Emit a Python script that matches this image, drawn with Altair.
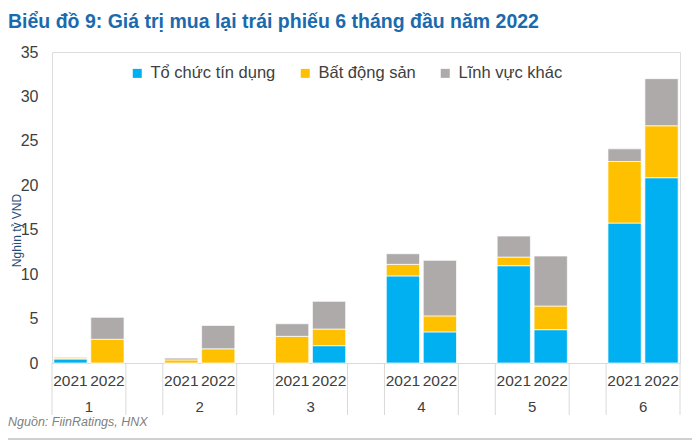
import altair as alt
import pandas as pd

months = [1, 2, 3, 4, 5, 6]
years = ["2021", "2022"]
sectors = ["Tổ chức tín dụng", "Bất động sản", "Lĩnh vực khác"]
colors = ["#00B0F0", "#FFC000", "#AEAAAA"]

# values (nghìn tỷ VND), per month
tctd_2021 = [0.45, 0.0, 0.0, 9.8, 10.95, 15.75]
tctd_2022 = [0.0, 0.0, 1.95, 3.5, 3.75, 20.85]
bds_2021 = [0.1, 0.35, 3.0, 1.3, 0.97, 6.93]
bds_2022 = [2.67, 1.6, 1.87, 1.8, 2.66, 5.85]
khac_2021 = [0.1, 0.2, 1.42, 1.2, 2.37, 1.42]
khac_2022 = [2.47, 2.63, 3.12, 6.25, 5.63, 5.3]

series = {
    ("Tổ chức tín dụng", "2021"): tctd_2021,
    ("Tổ chức tín dụng", "2022"): tctd_2022,
    ("Bất động sản", "2021"): bds_2021,
    ("Bất động sản", "2022"): bds_2022,
    ("Lĩnh vực khác", "2021"): khac_2021,
    ("Lĩnh vực khác", "2022"): khac_2022,
}

slots = []
for m in months:
    slots += [f"{m}-2021", f"{m}-2022"]
    if m != months[-1]:
        slots.append(f"{m}-gap")

rows = []
for (s, y), vals in series.items():
    for m, v in zip(months, vals):
        rows.append({"slot": f"{m}-{y}", "sector": s, "value": v,
                     "ord": sectors.index(s)})
df = pd.DataFrame(rows)

lab = pd.DataFrame([{"slot": f"{m}-{y}", "year": y, "month": str(m)}
                    for m in months for y in years])
lab21 = lab[lab.year == "2021"]
lab22 = lab[lab.year == "2022"]

FONT = "Liberation Sans"
TXT = "#404040"
GRID = "#D9D9D9"

xscale = alt.Scale(domain=slots, paddingInner=0, paddingOuter=0)

bars = alt.Chart(df).mark_bar(width={"band": 0.9}, stroke="white", strokeWidth=0.7).encode(
    x=alt.X("slot:N", scale=xscale,
            axis=alt.Axis(labels=False, ticks=False, title=None, domain=True,
                          domainColor=GRID, domainWidth=1)),
    y=alt.Y("value:Q", stack="zero",
            scale=alt.Scale(domain=[0, 35], nice=False),
            axis=alt.Axis(values=[0, 5, 10, 15, 20, 25, 30, 35], grid=False,
                          domain=False, ticks=False, labelFontSize=16,
                          labelColor=TXT, labelPadding=14, labelFont=FONT,
                          title="Nghìn tỷ VND", titleFontSize=12,
                          titleFontWeight="normal", titleColor="#1F4E79",
                          titleX=-29, titleY=178, titleFont=FONT)),
    color=alt.Color("sector:N",
                    scale=alt.Scale(domain=sectors, range=colors),
                    legend=alt.Legend(orient="none", legendX=77, legendY=13,
                                      direction="horizontal", title=None,
                                      symbolType="square", symbolSize=81,
                                      symbolStrokeWidth=0,
                                      labelFontSize=16.5, labelFont=FONT,
                                      labelColor=TXT, columnPadding=21,
                                      labelOffset=5)),
    order=alt.Order("ord:Q", sort="ascending"),
)

sep_left = alt.Chart(lab21).mark_rule(color=GRID, strokeWidth=1).encode(
    x=alt.X("slot:N", scale=xscale, bandPosition=0),
    y=alt.value(311), y2=alt.value(363),
)
sep_right = alt.Chart(lab22).mark_rule(color=GRID, strokeWidth=1).encode(
    x=alt.X("slot:N", scale=xscale, bandPosition=1),
    y=alt.value(311), y2=alt.value(363),
)

year_text = alt.Chart(lab).mark_text(fontSize=15.5, font=FONT, color=TXT,
                                     baseline="middle").encode(
    x=alt.X("slot:N", scale=xscale),
    y=alt.value(329),
    text="year:N",
)
month_text = alt.Chart(lab21).mark_text(fontSize=15, font=FONT, color=TXT,
                                        baseline="middle").encode(
    x=alt.X("slot:N", scale=xscale, bandPosition=1),
    y=alt.value(355),
    text="month:N",
)

note = alt.Chart(pd.DataFrame({"t": ["Nguồn: FiinRatings, HNX"]})).mark_text(
    fontSize=12.5, font=FONT, fontStyle="italic", color="#7F7F7F",
    align="left", baseline="alphabetic").encode(
    x=alt.value(-44), y=alt.value(374), text="t:N")

bottom_line = alt.Chart(pd.DataFrame({"a": [0]})).mark_rule(
    color="#D0D0D0", strokeWidth=2).encode(
    x=alt.value(-44), x2=alt.value(640), y=alt.value(387))

chart = alt.layer(bars, sep_left, sep_right, year_text, month_text, note,
                  bottom_line).properties(
    width=628, height=311,
    padding={"left": 44, "top": 44, "right": 12, "bottom": 78},
    autosize="none",
    title=alt.TitleParams(
        text="Biểu đồ 9: Giá trị mua lại trái phiếu 6 tháng đầu năm 2022",
        anchor="start", frame="group", dx=-44, offset=12,
        fontSize=19.5, fontWeight="bold", color="#1B6AAE", font=FONT),
).configure_view(stroke=None).configure(font=FONT)

chart.save("out.html", embed_options={"renderer": "svg", "actions": False})
